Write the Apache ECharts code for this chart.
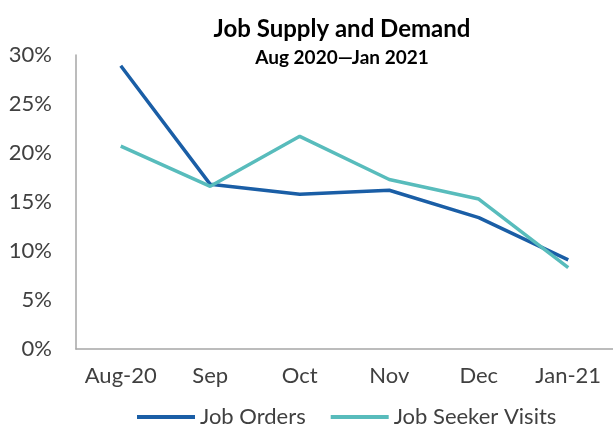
<!DOCTYPE html>
<html>
<head>
<meta charset="utf-8">
<style>
  html, body { margin: 0; padding: 0; background: #fff; }
  #chart { width: 613px; height: 426px; }
</style>
<script src="https://cdn.jsdelivr.net/npm/echarts@6/dist/echarts.min.js"></script>
</head>
<body>
<div id="chart"></div>
<script>
// values
const months = ['Aug-20', 'Sep', 'Oct', 'Nov', 'Dec', 'Jan-21']
const jobOrders = [0.289, 0.168, 0.158, 0.162, 0.134, 0.091]
const jobSeekerVisits = [0.207, 0.166, 0.217, 0.173, 0.153, 0.083]

const chart = echarts.init(document.getElementById('chart'))
const font = 'Lato, "Open Sans", sans-serif'

const option = {
  animation: false,
  textStyle: { fontFamily: font },
  title: {
    text: 'Job Supply and Demand',
    subtext: 'Aug 2020\u2014Jan 2021',
    left: 337,
    top: 12,
    textAlign: 'center',
    itemGap: 7,
    textStyle: { fontFamily: font, fontSize: 24, fontWeight: 'bold', color: '#000' },
    subtextStyle: { fontFamily: font, fontSize: 19, fontWeight: 'bold', color: '#000' }
  },
  legend: {
    left: 132,
    top: 401,
    icon: 'rect',
    itemWidth: 58,
    itemHeight: 4,
    itemGap: 25,
    textStyle: { fontFamily: font, fontSize: 22, color: '#404040' },
    data: ['Job Orders', 'Job Seeker Visits']
  },
  grid: {
    left: 76,
    top: 55,
    width: 544,
    height: 294
  },
  xAxis: {
    type: 'category',
    data: months,
    boundaryGap: true,
    axisTick: { show: false },
    axisLine: { lineStyle: { color: '#a6a6a6', width: 1.5 } },
    axisLabel: { color: '#404040', fontSize: 22, margin: 16, interval: 0, fontFamily: font }
  },
  yAxis: {
    type: 'value',
    min: 0,
    max: 0.3,
    interval: 0.05,
    splitLine: { show: false },
    axisTick: { show: false },
    axisLine: { show: true, lineStyle: { color: '#a6a6a6', width: 1.5 } },
    axisLabel: {
      color: '#404040',
      fontSize: 22,
      margin: 24,
      fontFamily: font,
      formatter: v => Math.round(v * 100) + '%'
    }
  },
  series: [
    {
      name: 'Job Orders',
      type: 'line',
      data: jobOrders,
      symbol: 'none',
      color: '#1a5ea6',
      lineStyle: { width: 3.5, color: '#1a5ea6' }
    },
    {
      name: 'Job Seeker Visits',
      type: 'line',
      data: jobSeekerVisits,
      symbol: 'none',
      color: '#58bcbc',
      lineStyle: { width: 3.5, color: '#58bcbc' }
    }
  ]
}

chart.setOption(option)
</script>
</body>
</html>
